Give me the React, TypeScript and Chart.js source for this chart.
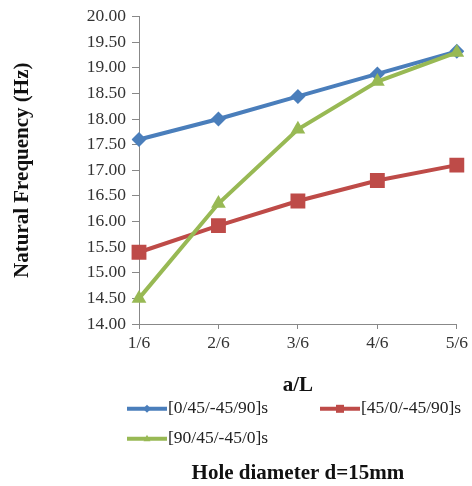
import React, { useEffect, useRef } from "react";
import { Chart, registerables } from "chart.js";

Chart.register(...registerables);

const categories = ["1/6", "2/6", "3/6", "4/6", "5/6"];
const seriesNames = ["[0/45/-45/90]s", "[45/0/-45/90]s", "[90/45/-45/0]s"];
const series1 = [17.6, 18.0, 18.44, 18.88, 19.32];
const series2 = [15.4, 15.92, 16.4, 16.8, 17.1];
const series3 = [14.5, 16.35, 17.8, 18.73, 19.3];
const yMin = 14;
const yMax = 20;
const yStep = 0.5;
const xTitle = "a/L";
const yTitle = "Natural Frequency (Hz)";
const chartTitle = "Hole diameter d=15mm";

const colors = ["#4A7EBB", "#BE4B48", "#98B954"];
const styles = ["rectRot", "rect", "triangle"];
const radii = [7.5, 10.5, 8.5];

const FONT = "'Liberation Serif', 'Times New Roman', serif";

function drawMarker(ctx: CanvasRenderingContext2D, style: string, x: number, y: number, r: number) {
  ctx.beginPath();
  if (style === "rectRot") {
    ctx.moveTo(x, y - r);
    ctx.lineTo(x + r, y);
    ctx.lineTo(x, y + r);
    ctx.lineTo(x - r, y);
  } else if (style === "rect") {
    ctx.rect(x - r, y - r, 2 * r, 2 * r);
  } else {
    ctx.moveTo(x, y - r);
    ctx.lineTo(x + r * 0.87, y + r * 0.6);
    ctx.lineTo(x - r * 0.87, y + r * 0.6);
  }
  ctx.closePath();
  ctx.fill();
}

const legendPlugin = {
  id: "excelLegend",
  afterDraw(chart: any) {
    const ctx: CanvasRenderingContext2D = chart.ctx;
    const left = chart.chartArea.left;
    const xb = chart.scales.x.bottom;
    const pos = [
      { x: left - 12, y: xb - 52 },
      { x: left + 181, y: xb - 52 },
      { x: left - 12, y: xb - 22 },
    ];
    ctx.save();
    seriesNames.forEach((name, i) => {
      const p = pos[i];
      ctx.strokeStyle = colors[i];
      ctx.fillStyle = colors[i];
      ctx.lineWidth = 4;
      ctx.beginPath();
      ctx.moveTo(p.x, p.y);
      ctx.lineTo(p.x + 40, p.y);
      ctx.stroke();
      drawMarker(ctx, styles[i], p.x + 20, p.y, 4);
      ctx.fillStyle = "#222";
      ctx.font = `17.5px ${FONT}`;
      ctx.textBaseline = "middle";
      ctx.textAlign = "left";
      ctx.fillText(name, p.x + 41, p.y);
    });
    ctx.restore();
  },
};

export default function App() {
  const ref = useRef<HTMLCanvasElement>(null);
  useEffect(() => {
    if (!ref.current) return;
    const data = [series1, series2, series3];
    const chart = new Chart(ref.current, {
      type: "line",
      data: {
        labels: categories,
        datasets: data.map((d, i) => ({
          label: seriesNames[i],
          data: d,
          borderColor: colors[i],
          backgroundColor: colors[i],
          borderWidth: 4,
          pointStyle: styles[i] as any,
          pointRadius: radii[i],
          pointHoverRadius: radii[i],
          pointBorderWidth: 0,
          pointBackgroundColor: colors[i],
          tension: 0,
          order: 3 - i,
        })),
      },
      options: {
        responsive: false,
        animation: false,
        layout: { padding: { top: 16, right: 13, left: 0, bottom: 0 } },
        plugins: {
          legend: { display: false },
          tooltip: { enabled: false },
          title: {
            display: true,
            position: "bottom",
            fullSize: false,
            text: chartTitle,
            color: "#111",
            font: { family: FONT, size: 21, weight: "bold" },
            padding: { top: 0, bottom: 0 },
          },
        },
        scales: {
          x: {
            offset: false,
            grid: { drawOnChartArea: false, drawTicks: true, tickLength: 5, color: "#888" },
            border: { display: true, color: "#888", width: 1 },
            ticks: { color: "#333", font: { family: FONT, size: 17.5 }, padding: 4, maxRotation: 0 },
            title: {
              display: true,
              text: xTitle,
              color: "#111",
              font: { family: FONT, size: 21, weight: "bold" },
              padding: { top: 0, bottom: 63 },
            },
            afterFit: (s: any) => {
              s.height = 136.8;
            },
          },
          y: {
            min: yMin,
            max: yMax,
            grid: { drawOnChartArea: false, drawTicks: true, tickLength: 7, color: "#888" },
            border: { display: true, color: "#888", width: 1 },
            ticks: {
              stepSize: yStep,
              color: "#333",
              font: { family: FONT, size: 17.5 },
              padding: 6,
              callback: (v: any) => Number(v).toFixed(2),
            },
            title: {
              display: true,
              text: yTitle,
              color: "#111",
              font: { family: FONT, size: 21, weight: "bold" },
              padding: { top: 10.4, bottom: 0 },
            },
            afterFit: (s: any) => {
              s.width = 139;
            },
          },
        },
      },
      plugins: [legendPlugin],
    });
    return () => chart.destroy();
  }, []);
  return (
    <div style={{ position: "absolute", left: 0, top: 0, width: 472, height: 486, background: "#fff" }}>
      <canvas ref={ref} width={472} height={486} style={{ display: "block" }} />
    </div>
  );
}
